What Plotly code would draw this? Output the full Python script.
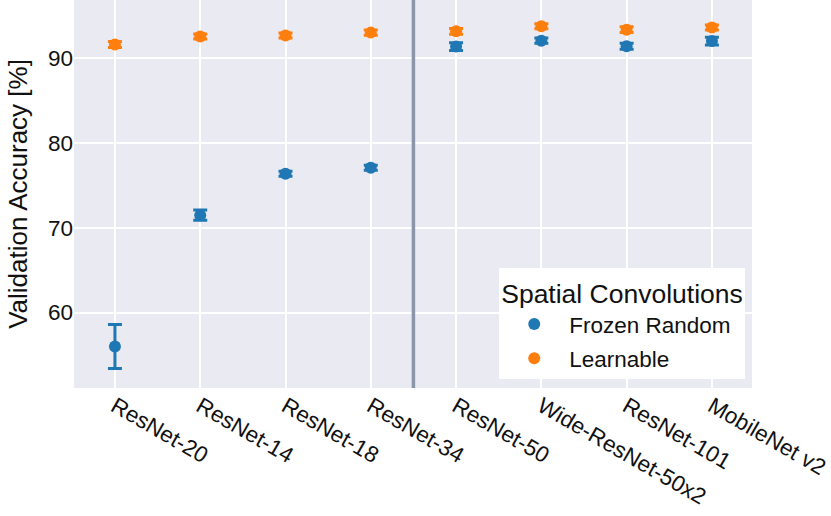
import plotly.graph_objects as go

models = ["ResNet-20", "ResNet-14", "ResNet-18", "ResNet-34",
          "ResNet-50", "Wide-ResNet-50x2", "ResNet-101", "MobileNet v2"]
frozen_mean = [56.0, 71.5, 76.4, 77.1, 91.4, 92.1, 91.45, 92.05]
frozen_err = [2.6, 0.6, 0.3, 0.3, 0.45, 0.3, 0.35, 0.45]
learn_mean = [91.65, 92.6, 92.7, 93.05, 93.2, 93.8, 93.4, 93.65]
learn_err = [0.35, 0.3, 0.3, 0.3, 0.35, 0.3, 0.35, 0.3]
y_ticks = [60, 70, 80, 90]
divider_x = 3.5

blue = "#1f77b4"
orange = "#ff7f0e"
font = "Liberation Sans, Arial, sans-serif"

x_idx = list(range(len(models)))

fig = go.Figure()
fig.add_trace(go.Scatter(
    x=x_idx, y=frozen_mean, mode="markers", name="Frozen Random",
    legendgroup="frozen",
    marker=dict(color=blue, size=12),
    error_y=dict(type="data", array=frozen_err, color=blue, thickness=3, width=7),
))
fig.add_trace(go.Scatter(
    x=x_idx, y=learn_mean, mode="markers", name="Learnable",
    legendgroup="learn",
    marker=dict(color=orange, size=12),
    error_y=dict(type="data", array=learn_err, color=orange, thickness=3, width=7),
))

fig.add_shape(type="line", xref="x", yref="paper", x0=divider_x, x1=divider_x,
              y0=0, y1=1, line=dict(color="#8b96ab", width=3.5), layer="above")

fig.update_layout(
    width=831, height=516,
    margin=dict(l=74, r=79, t=0, b=128),
    paper_bgcolor="white", plot_bgcolor="#EAEAF2",
    font=dict(family=font, size=22, color="#111111"),
    showlegend=True,
    legend=dict(
        title=dict(text="Spatial Convolutions", font=dict(size=26.5, family=font)),
        font=dict(size=22.5, family=font),
        x=0.99, xanchor="right", y=0.022, yanchor="bottom",
        bgcolor="white", borderwidth=0,
        itemsizing="constant", itemwidth=60,
        traceorder="grouped", tracegroupgap=2,
    ),
    xaxis=dict(
        tickmode="array", tickvals=x_idx, ticktext=models, tickangle=30,
        range=[-0.48, 7.47], showgrid=True, gridcolor="white", gridwidth=2,
        zeroline=False, showline=False, ticks="", tickfont=dict(size=22.5),
    ),
    yaxis=dict(
        tickmode="array", tickvals=y_ticks, range=[51.1, 96.9],
        showgrid=True, gridcolor="white", gridwidth=2, zeroline=False,
        showline=False, ticks="", tickfont=dict(size=22.5),
        title=dict(text="Validation Accuracy [%]", font=dict(size=26), standoff=12),
    ),
)

fig.write_html("out.html", config={"displayModeBar": False},
               post_script="document.body.style.margin='0';")
